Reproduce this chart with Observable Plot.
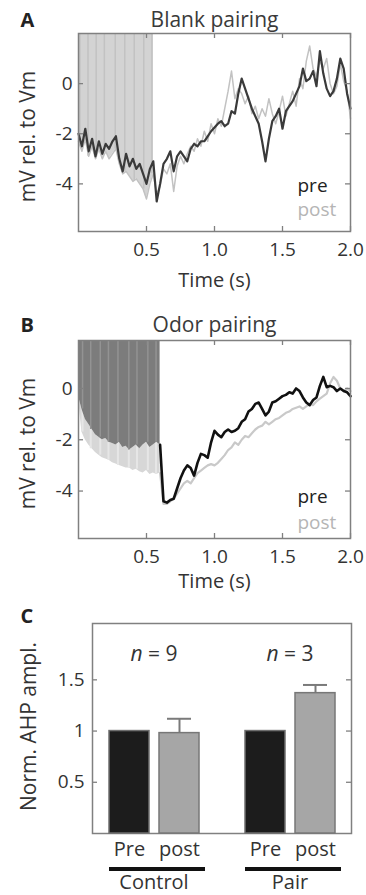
<!DOCTYPE html>
<html><head><meta charset="utf-8">
<script src="https://cdn.jsdelivr.net/npm/d3@7"></script>
<script src="https://cdn.jsdelivr.net/npm/@observablehq/plot@0.6"></script>
<style>
body{margin:0;background:#fff;}
#wrap{position:relative;width:366px;height:895px;overflow:hidden;}
.panel{position:absolute;left:0;}
.panel svg{overflow:visible;}
</style></head><body><div id="wrap"></div>
<script>
// ---------- data ----------
const time = [0,0.025,0.05,0.075,0.1,0.125,0.15,0.175,0.2,0.225,
  0.25,0.275,0.3,0.325,0.35,0.375,0.4,0.425,0.45,0.475,
  0.5,0.525,0.55,0.575,0.6,0.625,0.65,0.675,0.7,0.725,
  0.75,0.775,0.8,0.825,0.85,0.875,0.9,0.925,0.95,0.975,
  1,1.025,1.05,1.075,1.1,1.125,1.15,1.175,1.2,1.225,
  1.25,1.275,1.3,1.325,1.35,1.375,1.4,1.425,1.45,1.475,
  1.5,1.525,1.55,1.575,1.6,1.625,1.65,1.675,1.7,1.725,
  1.75,1.775,1.8,1.825,1.85,1.875,1.9,1.925,1.95,1.975,
  2];
const preA = [-2.0,-2.5,-1.8,-2.7,-2.2,-2.9,-2.3,-2.8,-2.4,-2.6,
  -2.3,-2.1,-3.0,-3.5,-2.8,-3.3,-3.0,-3.4,-3.2,-3.6,
  -4.0,-3.4,-3.1,-4.7,-4.0,-3.2,-3.0,-2.7,-3.5,-2.9,
  -2.7,-2.9,-3.1,-2.6,-2.4,-2.5,-2.3,-2.3,-2.1,-1.9,
  -1.75,-1.6,-1.5,-1.7,-1.6,-1.1,-1.2,-0.4,0.2,-0.2,
  -0.6,-1.0,-1.3,-1.6,-2.3,-3.1,-2.2,-1.5,-1.3,-1.0,
  -1.8,-1.1,-0.9,-0.7,-0.4,-0.1,0.6,0.1,0.2,0.5,
  -0.1,1.3,0.4,-0.2,-0.5,-0.3,0.2,1.0,0.6,-0.4,
  -1.0];
const postA = [-2.3,-2.7,-2.2,-2.9,-2.5,-3.0,-2.6,-3.0,-2.7,-3.0,
  -2.8,-2.6,-3.2,-3.6,-3.5,-3.7,-3.9,-3.8,-4.0,-4.2,
  -4.6,-4.0,-3.6,-4.4,-4.1,-3.4,-3.6,-3.2,-4.3,-3.3,
  -2.9,-3.2,-2.8,-2.5,-2.7,-2.2,-2.5,-1.9,-2.3,-1.6,
  -2.0,-1.4,-1.7,-1.0,-0.3,0.5,-0.6,-0.2,-0.4,-0.8,
  -0.5,-1.2,-0.9,-1.4,-1.0,-1.3,-0.6,-1.2,-1.6,-1.1,
  -0.5,-1.3,-0.8,-0.3,-0.9,0.2,-0.2,0.9,1.5,0.6,
  0.3,0.9,0.6,1.0,0.0,-0.4,-0.1,0.8,0.1,-0.3,
  -1.4];
const preB = [-0.3,-0.8,-1.2,-1.4,-1.6,-1.8,-1.9,-2.0,-1.95,-2.1,
  -2.15,-2.2,-2.1,-2.3,-2.25,-2.4,-2.3,-2.2,-2.35,-2.2,
  -2.1,-2.3,-2.2,-2.1,-2.2,-4.4,-4.45,-4.35,-4.3,-3.9,
  -3.5,-3.2,-3.0,-3.1,-3.4,-2.9,-2.55,-2.6,-2.7,-2.1,
  -1.65,-1.8,-1.9,-1.7,-1.6,-1.7,-1.65,-1.55,-1.3,-1.2,
  -0.9,-0.8,-0.6,-0.55,-0.8,-1.05,-0.9,-0.55,-0.5,-0.4,
  -0.3,-0.25,-0.15,-0.2,0.0,-0.1,-0.35,-0.55,-0.65,-0.45,
  -0.35,0.1,0.45,0.05,0.1,0.05,-0.1,0.0,-0.1,-0.15,
  -0.3];
const postB = [-0.4,-1.7,-2.0,-2.2,-2.35,-2.5,-2.6,-2.7,-2.75,-2.8,
  -2.9,-2.95,-3.0,-3.05,-3.1,-3.1,-3.2,-3.15,-3.25,-3.3,
  -3.2,-3.35,-3.3,-3.35,-3.3,-4.5,-4.5,-4.4,-4.3,-4.1,
  -3.9,-3.7,-3.6,-3.7,-3.5,-3.3,-3.2,-3.1,-3.0,-2.95,
  -3.0,-2.9,-2.75,-2.6,-2.4,-2.3,-2.1,-2.2,-2.0,-1.85,
  -1.9,-1.75,-1.6,-1.5,-1.45,-1.3,-1.4,-1.3,-1.2,-1.15,
  -1.05,-0.95,-0.9,-0.8,-0.75,-0.7,-0.8,-0.7,-0.6,-0.65,
  -0.5,-0.4,-0.3,-0.2,0.2,0.45,0.3,0.0,-0.1,0.0,
  -0.1];
const stimEndA = 0.55, stimEndB = 0.6;
const stimPulsesA = [0.01,0.07,0.13,0.19,0.27,0.34,0.41,0.48,0.54];
const stimPulsesB = [0.03,0.09,0.16,0.22,0.29,0.37,0.43,0.51,0.57];
const timeTicks = [0.5,1,1.5,2];
const vmTicks = [0,-2,-4];
const vmDomainA = [-5.9,2.0];
const vmDomainB = [-5.85,1.87];

const groups = ["Control","Control","Pair","Pair"];
const conditions = ["Pre","post","Pre","post"];
const ahp = [1,0.98,1,1.37];
const ahpErr = [0,0.14,0,0.08];
const nCells = {Control: 9, Pair: 3};
const ahpTicks = [0.5,1,1.5];
const ahpDomain = [0,2.05];

// ---------- helpers ----------
const FONT = '"Open Sans", sans-serif';
const wrap = document.getElementById("wrap");
function place(el, top){
  const d = document.createElement("div");
  d.className = "panel"; d.style.top = top + "px";
  d.appendChild(el); wrap.appendChild(d); return el;
}
function nearest(arr, t){ return arr[d3.minIndex(time, s => Math.abs(s - t))]; }
function frameTicks(xt, yt, fw, fh){
  const s = 5, st = {stroke:"#808080", strokeWidth:1.3};
  const m = [
    Plot.tickY(yt, {y: d=>d, insetRight: fw - s, ...st}),
    Plot.tickY(yt, {y: d=>d, insetLeft: fw - s, ...st})
  ];
  if (xt) m.push(
    Plot.tickX(xt, {x: d=>d, insetTop: fh - s, ...st}),
    Plot.tickX(xt, {x: d=>d, insetBottom: fh - s, ...st})
  );
  return m;
}
const T = {lineAnchor:"middle", fontSize:20, fill:"#333"};

function tracePanel(o){
  const W=366, H=295, mL=78, mR=16, mT=33, mB=64;
  const fw = W-mL-mR, fh = H-mT-mB;
  const rows = time.map((t,i)=>({t, pre:o.pre[i], post:o.post[i]}));
  const stim = rows.filter(d=>d.t<=o.stimEnd+1e-9);
  const after = rows.filter(d=>d.t>=o.stimEnd-1e-9);
  const yMax = o.yDomain[1];
  const marks = [];
  if (o.odor){
    marks.push(
      Plot.areaY(stim, {x:"t", y1:"post", y2:"pre", fill:"#d7d7d7"}),
      Plot.ruleX(o.pulses, {x:d=>d, y1:d=>nearest(o.post,d), y2:d=>nearest(o.pre,d), stroke:"#e6e6e6", strokeWidth:2}),
      Plot.areaY(stim, {x:"t", y1:"pre", y2:()=>yMax, fill:"#7c7c7c"}),
      Plot.ruleX(o.pulses, {x:d=>d, y1:d=>nearest(o.pre,d), y2:()=>yMax, stroke:"#939393", strokeWidth:1.5}),
      Plot.line(after, {x:"t", y:"post", stroke:"#c9c9c9", strokeWidth:2.2}),
      Plot.line(after, {x:"t", y:"pre", stroke:"#111", strokeWidth:2.6})
    );
  } else {
    marks.push(
      Plot.areaY(stim, {x:"t", y1:d=>Math.min(d.pre,d.post), y2:()=>yMax, fill:"#d3d3d3"}),
      Plot.ruleX(o.pulses, {x:d=>d, y1:d=>Math.min(nearest(o.pre,d),nearest(o.post,d)), y2:()=>yMax, stroke:"#c2c2c2", strokeWidth:1.5}),
      Plot.line(rows, {x:"t", y:"post", stroke:"#c2c2c2", strokeWidth:1.5}),
      Plot.line(rows, {x:"t", y:"pre", stroke:"#3a3a3a", strokeWidth:2.2})
    );
  }
  marks.push(
    Plot.frame({stroke:"#808080", strokeWidth:1.5}),
    ...frameTicks(timeTicks, vmTicks, fw, fh),
    Plot.text([o.title], {...T, frameAnchor:"top", dy:o.titleDy, fontSize:21, fill:"#3a3a3a"}),
    Plot.text([o.letter], {...T, frameAnchor:"top-left", textAnchor:"start", dx:-58, dy:o.titleDy+1, fontWeight:"bold", fill:"#222"}),
    Plot.text(["mV rel. to Vm"], {...T, frameAnchor:"left", textAnchor:"middle", rotate:-90, dx:-50, dy:4, fontSize:21}),
    Plot.text(["Time (s)"], {...T, frameAnchor:"bottom", dy:o.timeDy}),
    Plot.text(["pre"], {...T, frameAnchor:"bottom-right", textAnchor:"start", dx:-53, dy:o.preDy, fontSize:19, fill:"#222"}),
    Plot.text(["post"], {...T, frameAnchor:"bottom-right", textAnchor:"start", dx:-53, dy:o.postDy, fontSize:19, fill:"#b5b5b5"})
  );
  return Plot.plot({
    width:W, height:H, marginLeft:mL, marginRight:mR, marginTop:mT, marginBottom:mB,
    style:{fontFamily:FONT, fontSize:"19px", color:"#333", background:"transparent", overflow:"visible"},
    x:{domain:[0,2], ticks:timeTicks, tickFormat:d3.format(".1f"), tickSize:0, tickPadding:11, label:null},
    y:{domain:o.yDomain, ticks:vmTicks, tickFormat:d=>String(d), tickSize:0, tickPadding:6, label:null},
    marks
  });
}

// ---------- panels A, B ----------
place(tracePanel({letter:"A", title:"Blank pairing", pre:preA, post:postA, stimEnd:stimEndA,
  pulses:stimPulsesA, yDomain:vmDomainA, odor:false, titleDy:-13.5, timeDy:49.5, preDy:-45.5, postDy:-22}), 0);
place(tracePanel({letter:"B", title:"Odor pairing", pre:preB, post:postB, stimEnd:stimEndB,
  pulses:stimPulsesB, yDomain:vmDomainB, odor:true, titleDy:-15.5, timeDy:43, preDy:-41.5, postDy:-16}), 307);

// ---------- panel C ----------
const bars = groups.map((g,i)=>({group:g, cond:conditions[i], value:ahp[i], err:ahpErr[i]}));
const CW=366, CH=305, cL=92, cR=15, cT=33, cB=62;
const cfw = CW-cL-cR, cfh = CH-cT-cB;
const baseC = Plot.plot({
  width:CW, height:CH, marginLeft:cL, marginRight:cR, marginTop:cT, marginBottom:cB,
  style:{fontFamily:FONT, fontSize:"19px", color:"#333", background:"transparent", overflow:"visible"},
  y:{domain:ahpDomain, ticks:ahpTicks, tickFormat:d=>String(d), tickSize:0, tickPadding:8, label:null},
  marks:[
    Plot.frame({stroke:"#808080", strokeWidth:1.5}),
    ...frameTicks(null, ahpTicks, cfw, cfh),
    Plot.text(["C"], {...T, frameAnchor:"top-left", textAnchor:"start", dx:-72, dy:-6.5, fontWeight:"bold", fill:"#222"}),
    Plot.text(["Norm. AHP ampl."], {...T, frameAnchor:"left", textAnchor:"middle", rotate:-90, dx:-63, dy:-2, fontSize:21})
  ]
});
place(baseC, 590);

const isPre = d => d.cond === "Pre";
const hasErr = d => d.err > 0;
const barsC = Plot.plot({
  width:CW, height:CH, marginLeft:cL, marginRight:cR, marginTop:cT, marginBottom:cB,
  style:{fontFamily:FONT, fontSize:"19px", color:"#333", background:"transparent", overflow:"visible"},
  facet:{data:bars, x:"group"},
  fx:{domain:["Control","Pair"], paddingInner:0.2, paddingOuter:0.05, axis:null, label:null},
  x:{domain:["Pre","post"], paddingInner:0.2, paddingOuter:0.17, axis:null, label:null},
  y:{domain:ahpDomain, axis:null, label:null},
  marks:[
    Plot.ruleX(bars, {filter:hasErr, x:"cond", y1:"value", y2:d=>d.value+d.err, stroke:"#7a7a7a", strokeWidth:2}),
    Plot.tickY(bars, {filter:hasErr, x:"cond", y:d=>d.value+d.err, stroke:"#7a7a7a", strokeWidth:2, insetLeft:8, insetRight:8}),
    Plot.barY(bars, {filter:isPre, x:"cond", y:"value", fill:"#1c1c1c", stroke:"#6f6f6f", strokeWidth:1.5}),
    Plot.barY(bars, {filter:d=>!isPre(d), x:"cond", y:"value", fill:"#a6a6a6", stroke:"#777", strokeWidth:1.5}),
    Plot.text(bars, {...T, filter:isPre, text:d=>`n = ${nCells[d.group]}`, frameAnchor:"top", dy:30.5, fontSize:21}),
    Plot.text(bars, {...T, x:"cond", text:"cond", frameAnchor:"bottom", dy:16}),
    Plot.ruleY(bars, {filter:isPre, y:()=>ahpDomain[0], dy:35.5, insetLeft:10, insetRight:3, stroke:"#111", strokeWidth:4}),
    Plot.text(bars, {...T, filter:isPre, text:"group", frameAnchor:"bottom", dy:49.5})
  ]
});
d3.select(barsC).selectAll("text").filter(function(){ return /^n = /.test(this.textContent); })
  .each(function(){
    const rest = this.textContent.slice(1);
    const el = d3.select(this); el.text(null);
    el.append("tspan").attr("font-style","italic").text("n");
    el.append("tspan").text(rest);
  });
place(barsC, 590);
</script></body></html>
